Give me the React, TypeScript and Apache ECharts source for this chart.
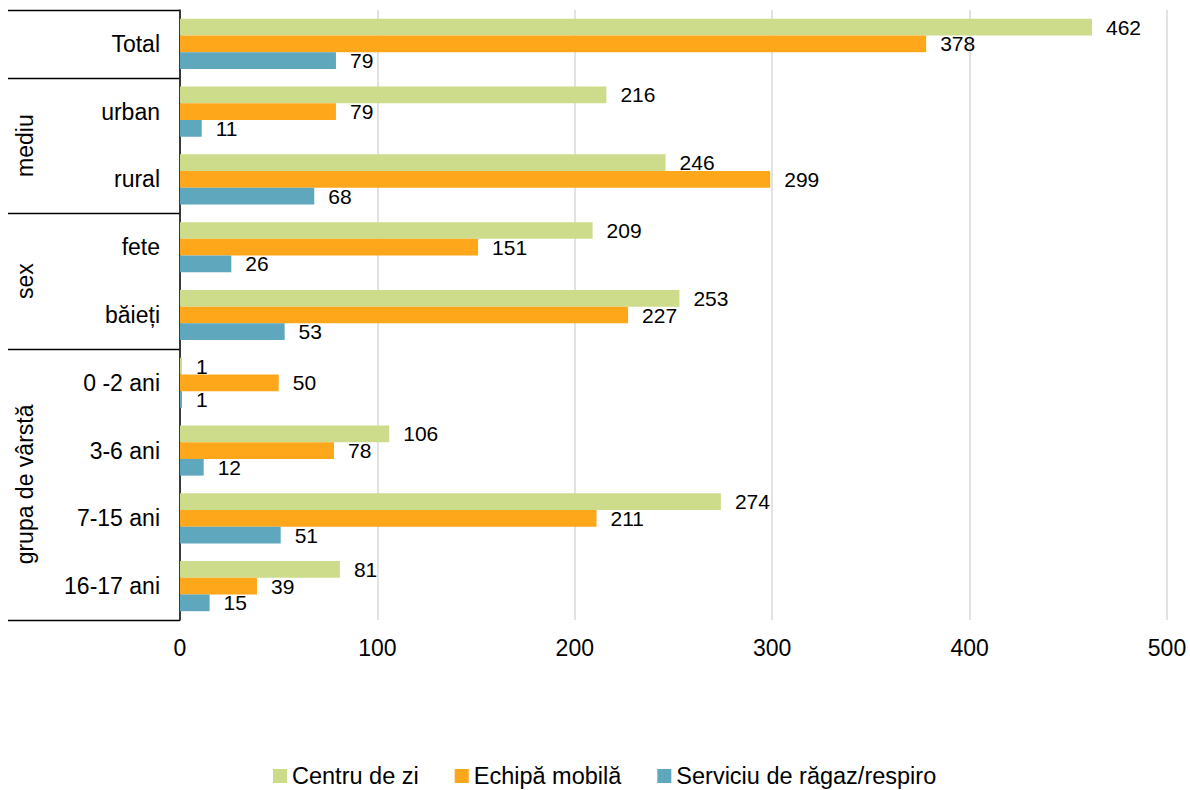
import React, { useEffect, useRef } from "react";
import * as echarts from "echarts";

const categories = ["Total", "urban", "rural", "fete", "băieți", "0 -2 ani", "3-6 ani", "7-15 ani", "16-17 ani"];
const centruDeZi = [462, 216, 246, 209, 253, 1, 106, 274, 81];
const echipaMobila = [378, 79, 299, 151, 227, 50, 78, 211, 39];
const serviciuRagaz = [79, 11, 68, 26, 53, 1, 12, 51, 15];
const seriesNames = ["Centru de zi", "Echipă mobilă", "Serviciu de răgaz/respiro"];
const colors = ["#cddc8a", "#ffa71a", "#5fa7bc"];
const groups = [
  { name: "", from: 0, to: 1 },
  { name: "mediu", from: 1, to: 3 },
  { name: "sex", from: 3, to: 5 },
  { name: "grupa de vârstă", from: 5, to: 9 },
];

const W = 1190;
const H = 790;
const GRID = { left: 180, right: 23, top: 10, bottom: 170 };
const FONT = "'Liberation Sans', Arial, sans-serif";

export default function App() {
  const ref = useRef<HTMLDivElement>(null);
  useEffect(() => {
    if (!ref.current) return;
    const chart = echarts.init(ref.current, undefined, { renderer: "svg" });
    const plotH = H - GRID.top - GRID.bottom;
    const band = plotH / categories.length;
    const graphics: any[] = [];
    const boundaries = new Set<number>();
    groups.forEach((g) => {
      boundaries.add(g.from);
      boundaries.add(g.to);
      if (g.name) {
        const cy = GRID.top + ((g.from + g.to) / 2) * band;
        graphics.push({
          type: "text",
          x: 25,
          y: cy,
          rotation: Math.PI / 2,
          style: {
            text: g.name,
            font: `23px ${FONT}`,
            fill: "#000",
            align: "center",
            verticalAlign: "middle",
          },
        });
      }
    });
    boundaries.forEach((b) => {
      const y = Math.round(GRID.top + b * band) + 0.5;
      graphics.push({
        type: "line",
        shape: { x1: 8, y1: y, x2: GRID.left, y2: y },
        style: { stroke: "#000", lineWidth: 1.5 },
      });
    });

    const mk = (name: string, data: number[], color: string) => ({
      name,
      type: "bar",
      data,
      barGap: "0%",
      barCategoryGap: "26%",
      itemStyle: { color },
      label: {
        show: true,
        position: "right",
        distance: 14,
        color: "#000",
        fontSize: 21,
        fontFamily: FONT,
      },
    });

    chart.setOption({
      animation: false,
      backgroundColor: "#fff",
      grid: { ...GRID, containLabel: false },
      legend: {
        top: 764,
        left: 273,
        padding: 0,
        itemWidth: 14,
        itemHeight: 14,
        itemGap: 36,
        icon: "rect",
        textStyle: { fontSize: 23.5, fontFamily: FONT, color: "#000" },
        data: seriesNames,
      },
      xAxis: {
        type: "value",
        min: 0,
        max: 500,
        interval: 100,
        axisLine: { show: false },
        axisTick: { show: false },
        splitLine: { show: true, lineStyle: { color: "#d9d9d9", width: 1.5 } },
        axisLabel: { fontSize: 23, fontFamily: FONT, color: "#000", margin: 16 },
      },
      yAxis: {
        type: "category",
        data: categories,
        inverse: true,
        axisLine: { show: true, lineStyle: { color: "#000", width: 1.5 } },
        axisTick: { show: false },
        axisLabel: { fontSize: 23, fontFamily: FONT, color: "#000", margin: 20 },
      },
      graphic: graphics,
      series: [
        mk(seriesNames[0], centruDeZi, colors[0]),
        mk(seriesNames[1], echipaMobila, colors[1]),
        mk(seriesNames[2], serviciuRagaz, colors[2]),
      ],
    });
    return () => chart.dispose();
  }, []);
  return (
    <div
      ref={ref}
      style={{ position: "absolute", left: 0, top: 0, width: W, height: H }}
    />
  );
}
